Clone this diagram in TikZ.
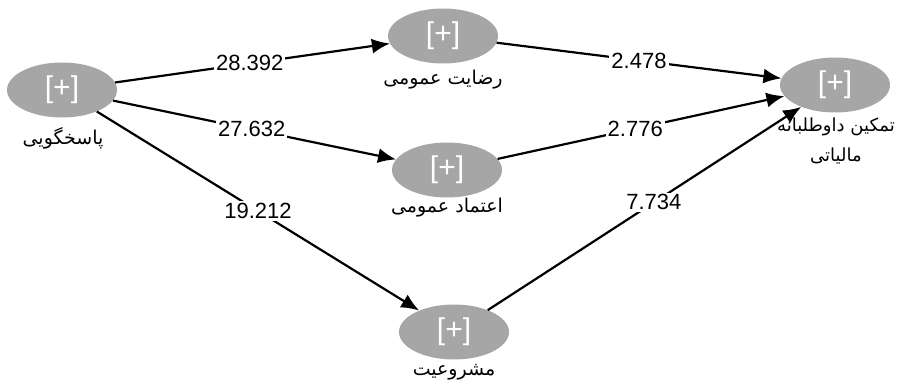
\documentclass[tikz,border=0pt]{standalone}
\usepackage{fontspec}
\setmainfont{Liberation Sans}
\newfontfamily\arabicfont[Script=Arabic]{DejaVu Sans}
\TeXXeTstate=1
\usetikzlibrary{shapes.geometric,arrows.meta}
\definecolor{lvgray}{RGB}{166,166,166}
\begin{document}
\begin{tikzpicture}[x=1pt,y=-1pt,
  lv/.style={ellipse,fill=lvgray,minimum width=110pt,minimum height=55pt,inner sep=0pt,
    text=white,font=\fontsize{30}{32}\selectfont},
  lab/.style={font=\arabicfont\fontsize{19}{30}\selectfont,align=center,inner sep=1pt},
  conn/.style={line width=2.2pt,-{Latex[length=18pt,width=15pt]}},
  val/.style={fill=white,inner sep=2pt,font=\fontsize{22}{24}\selectfont}]
\useasboundingbox (0,0) rectangle (901,385);
\node[lv] (pas) at (62,90) {[+]};
\node[lv] (rez) at (443,36) {[+]};
\node[lv] (etm) at (447,170) {[+]};
\node[lv] (mas) at (454,332) {[+]};
\node[lv] (tam) at (835,85) {[+]};
\node[lab] (lpas) at (63,138) {\beginR پاسخگویی\endR};
\node[lab] (lrez) at (443,80) {\beginR رضایت عمومی\endR};
\node[lab] (letm) at (447,208) {\beginR اعتماد عمومی\endR};
\node[lab] (lmas) at (454,372) {\beginR مشروعیت\endR};
\node[lab,font=\arabicfont\fontsize{18}{30}\selectfont] (ltam) at (836,141) {\beginR تمکین داوطلبانه\endR\\\beginR مالیاتی\endR};
\draw[conn] (pas) -- node[val,pos=0.49] {28.392} (rez);
\draw[conn] (pas) -- node[val,pos=0.49] {27.632} (etm);
\draw[conn] (pas) -- node[val,pos=0.5] {19.212} (mas);
\draw[conn] (rez) -- node[val,pos=0.5] {2.478} (tam);
\draw[conn] (etm) -- node[val,pos=0.48] {2.776} (tam);
\draw[conn] (mas) -- node[val,pos=0.53] {7.734} (tam);
\end{tikzpicture}
\end{document}
